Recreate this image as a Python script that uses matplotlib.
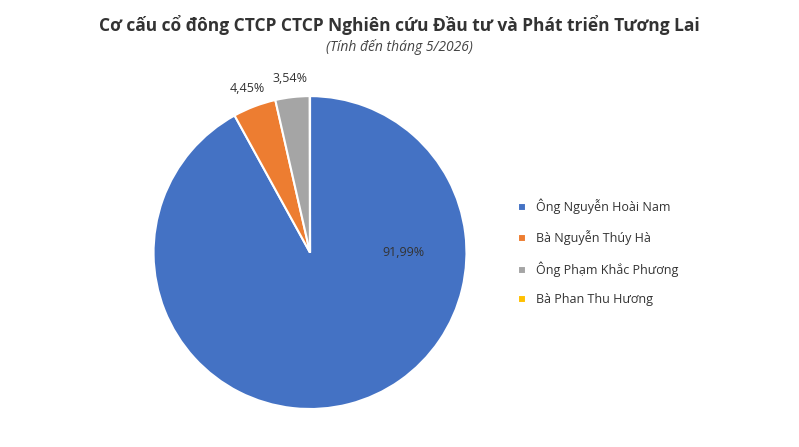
import matplotlib
matplotlib.use("Agg")
import matplotlib.pyplot as plt

labels = ["Ông Nguyễn Hoài Nam", "Bà Nguyễn Thúy Hà", "Ông Phạm Khắc Phương", "Bà Phan Thu Hương"]
values = [91.99, 4.45, 3.54, 0.02]
pct_labels = ["91,99%", "4,45%", "3,54%", ""]
colors = ["#4472C4", "#ED7D31", "#A5A5A5", "#FFC000"]

plt.rcParams['font.family'] = ['Open Sans', 'DejaVu Sans']
fig = plt.figure(figsize=(7.99, 4.47), dpi=100)
fig.text(0.5, 0.945, "Cơ cấu cổ đông CTCP CTCP Nghiên cứu Đầu tư và Phát triển Tương Lai",
         ha="center", va="center", fontsize=12.5, fontweight="bold", color="#333333")
fig.text(0.5, 0.895, "(Tính đến tháng 5/2026)", ha="center", va="center",
         fontsize=10, style="italic", color="#444444")

ax = fig.add_axes([0.388 - 0.2, 0.085, 0.4, 0.7])
r = 155 / (0.7 * 447) * 2 / 2
wedges, _ = ax.pie(values, colors=colors, startangle=90, counterclock=False,
                   wedgeprops=dict(edgecolor="white", linewidth=1.5))
ax.set_aspect("equal")
ax.set_xlim(-1.0, 1.0)
ax.set_ylim(-1.0, 1.0)
import numpy as np
angle = 90
pos = [(0.6, 0.5), None, None, None]
for i, (w, lab) in enumerate(zip(wedges, pct_labels)):
    if not lab:
        continue
    mid = np.deg2rad((w.theta1 + w.theta2) / 2)
    if i == 0:
        x, y = 0.73 * np.cos(mid), 0.73 * np.sin(mid)
        x, y = 0.6, 0.0
    else:
        x, y = 1.12 * np.cos(mid), 1.12 * np.sin(mid)
    ax.text(x, y, lab, ha="center", va="center", fontsize=9, color="#333333")

ax.legend(wedges, labels, loc="center left", bbox_to_anchor=(1.13, 0.5), frameon=False,
          fontsize=9, handlelength=0.6, handleheight=0.6, labelspacing=1.3,
          labelcolor="#333333")
fig.savefig("out.png", dpi=100)
